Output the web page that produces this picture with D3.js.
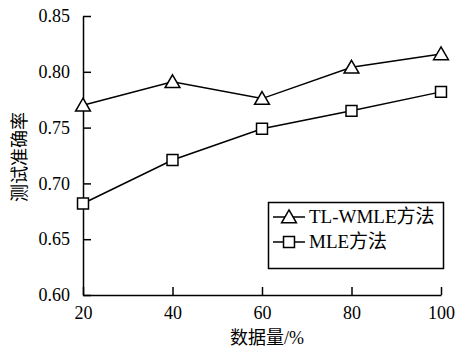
<!DOCTYPE html>
<html>
<head>
<meta charset="utf-8">
<script src="https://cdn.jsdelivr.net/npm/d3@7"></script>
<style>
  body { margin: 0; background: #fff; }
  svg { display: block; }
  text { font-family: "Liberation Serif", "Times New Roman", serif; fill: #000; }
  .cjk { font-family: "Liberation Serif", "Noto Sans CJK SC", serif; }
</style>
</head>
<body>
<svg id="chart" width="456" height="349"></svg>
<script>
// Data size (% of training set) against test accuracy for two estimators
const dataSizes = [20, 40, 60, 80, 100];
const tlwmleAcc = [0.770, 0.791, 0.776, 0.804, 0.816];
const mleAcc = [0.682, 0.721, 0.749, 0.765, 0.782];
const xTicks = [20, 40, 60, 80, 100];
const yTicks = [0.60, 0.65, 0.70, 0.75, 0.80, 0.85];
const seriesNames = ["TL-WMLE方法", "MLE方法"];

const svg = d3.select("#chart");
const plot = { left: 83, right: 441, top: 16, bottom: 295 };

const x = d3.scaleLinear().domain([20, 100]).range([plot.left, plot.right]);
const y = d3.scaleLinear().domain([0.60, 0.85]).range([plot.bottom, plot.top]);

const axisColor = "#000";

// Axes: ticks point inward
const xAxis = svg.append("g")
  .attr("transform", `translate(0,${plot.bottom})`)
  .call(d3.axisBottom(x).tickValues(xTicks).tickSizeInner(-8).tickSizeOuter(0).tickPadding(11).tickFormat(d3.format("d")));
const yAxis = svg.append("g")
  .attr("transform", `translate(${plot.left},0)`)
  .call(d3.axisLeft(y).tickValues(yTicks).tickSizeInner(-8).tickSizeOuter(0).tickPadding(11).tickFormat(d3.format(".2f")));

[xAxis, yAxis].forEach(g => {
  g.selectAll("path, line").attr("stroke", axisColor).attr("stroke-width", 1.5);
  g.selectAll("text").style("font-family", "'Liberation Serif', serif").style("font-size", "18px").attr("fill", "#000");
});
yAxis.selectAll("text").attr("dx", "-2");

// Axis titles
svg.append("text")
  .attr("class", "cjk")
  .attr("x", (plot.left + plot.right) / 2 + 5)
  .attr("y", 344)
  .attr("text-anchor", "middle")
  .style("font-size", "18px")
  .text("数据量/%");

svg.append("text")
  .attr("class", "cjk")
  .attr("transform", "translate(26,157) rotate(-90)")
  .attr("text-anchor", "middle")
  .style("font-size", "18px")
  .text("测试准确率");

const triangle = d3.symbol().type(d3.symbolTriangle).size(95);
const square = d3.symbol().type(d3.symbolSquare).size(120);

const line = d3.line().x((d, i) => x(dataSizes[i])).y(d => y(d));

function drawSeries(values, symbolGen, offsetY) {
  svg.append("path")
    .datum(values)
    .attr("d", line)
    .attr("fill", "none")
    .attr("stroke", "#000")
    .attr("stroke-width", 1.5);
  svg.append("g").selectAll("path")
    .data(values)
    .join("path")
    .attr("d", symbolGen)
    .attr("transform", (d, i) => `translate(${x(dataSizes[i])},${y(d) + offsetY})`)
    .attr("fill", "#fff")
    .attr("stroke", "#000")
    .attr("stroke-width", 1.5);
}

drawSeries(tlwmleAcc, triangle, 1.5);
drawSeries(mleAcc, square, 0);

// Legend
const legend = svg.append("g");
legend.append("rect")
  .attr("x", 268.5).attr("y", 202.5)
  .attr("width", 175).attr("height", 66)
  .attr("fill", "#fff").attr("stroke", "#000").attr("stroke-width", 1.5);

const legendSymbols = [triangle, square];
seriesNames.forEach((name, i) => {
  const cy = 217 + i * 25;
  legend.append("line")
    .attr("x1", 273).attr("x2", 305)
    .attr("y1", cy).attr("y2", cy)
    .attr("stroke", "#000").attr("stroke-width", 1.5);
  legend.append("path")
    .attr("d", legendSymbols[i])
    .attr("transform", `translate(289,${cy + (i === 0 ? 1.5 : 0)})`)
    .attr("fill", "#fff").attr("stroke", "#000").attr("stroke-width", 1.5);
  legend.append("text")
    .attr("class", "cjk")
    .attr("x", 309).attr("y", cy + 6)
    .style("font-size", "19px")
    .text(name);
});
</script>
</body>
</html>
